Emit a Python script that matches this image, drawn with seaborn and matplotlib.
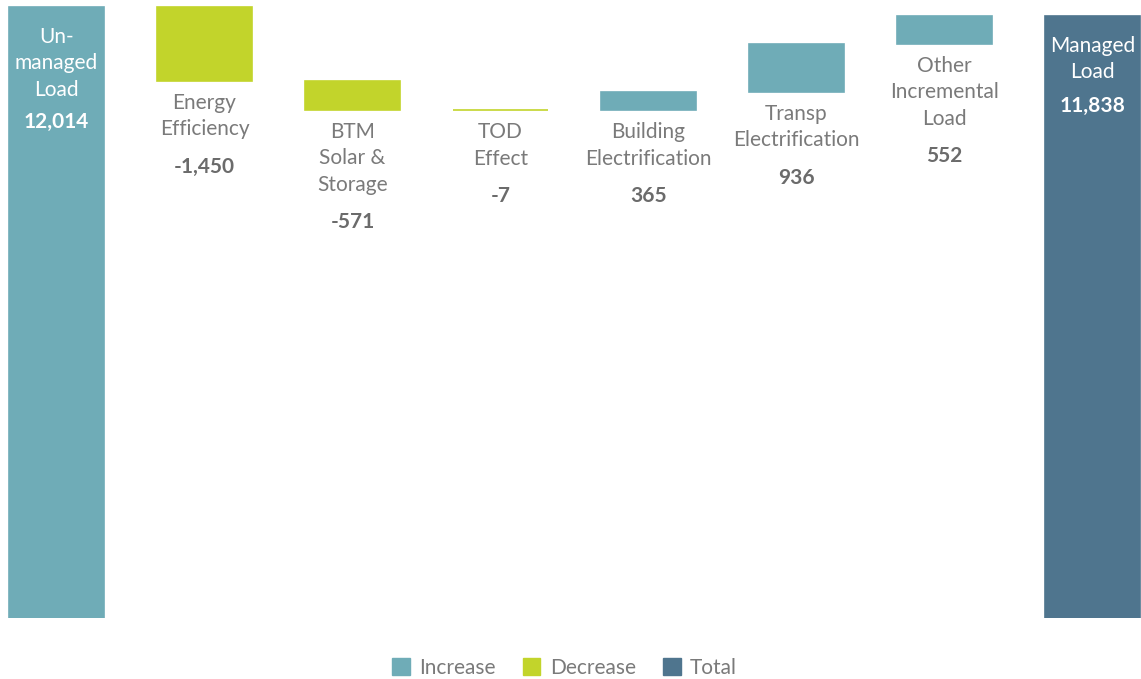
import matplotlib
matplotlib.use("Agg")
import matplotlib.pyplot as plt
import matplotlib.patches as mpatches
import seaborn as sns
import numpy as np

# data
categories = ["Un-\nmanaged\nLoad", "Energy\nEfficiency", "BTM\nSolar &\nStorage", "TOD\nEffect",
              "Building\nElectrification", "Transp\nElectrification", "Other\nIncremental\nLoad",
              "Managed\nLoad"]
values = [12014, -1450, -571, -7, 365, 936, 552, 11838]
is_total = [True, False, False, False, False, False, False, True]
color_kind = ["Increase", "Decrease", "Decrease", "Decrease", "Increase", "Increase", "Increase", "Total"]

palette = {"Increase": "#6FACB7", "Decrease": "#C2D42B", "Total": "#4F758E"}
label_color = "#7A7A7A"
value_color = "#6B6B6B"

sns.set_theme(style="white")
plt.rcParams["font.family"] = ["Lato", "DejaVu Sans"]

# waterfall bottoms / heights
bottoms, heights = [], []
running = 0
for v, tot in zip(values, is_total):
    if tot:
        bottoms.append(0)
        heights.append(v)
        running = v
    else:
        bottoms.append(running)
        heights.append(v)
        running += v

fig = plt.figure(figsize=(11.41, 6.79), dpi=100)
W, H = 1141, 679
ax = fig.add_axes([0, (H - 618) / H, 1, 618 / H])

x = np.arange(len(categories))
colors = [palette[k] for k in color_kind]
ax.bar(x, heights, bottom=bottoms, width=0.642, color=colors, edgecolor=colors, linewidth=1.2)

ax.set_xlim(-56.5 / 148, 7 + (W - 1092.5) / 148)
ax.set_ylim(0, 12014 * 618 / 611)
ax.set_axis_off()

px = 72 / 100  # pixels -> points
fs = 15

for i, (cat, v, b, tot) in enumerate(zip(categories, values, bottoms, is_total)):
    n = cat.count("\n") + 1
    if tot:
        top = b + v
        ax.annotate(cat, (i, top), xytext=(0, -20 * px), textcoords="offset points",
                    ha="center", va="top", fontsize=fs, color="white", linespacing=1.4)
        ax.annotate(f"{v:,}", (i, top), xytext=(0, -(28 + (n - 1) * 24.5 + 38) * px),
                    textcoords="offset points", ha="center", va="center",
                    fontsize=fs, fontweight="bold", color="white")
    else:
        low = min(b, b + v)
        ax.annotate(cat, (i, low), xytext=(0, -12 * px), textcoords="offset points",
                    ha="center", va="top", fontsize=fs, color=label_color, linespacing=1.4)
        ax.annotate(f"{v:,}", (i, low), xytext=(0, -(21 + (n - 1) * 26 + 39) * px),
                    textcoords="offset points", ha="center", va="center",
                    fontsize=fs, fontweight="bold", color=value_color)

handles = [mpatches.Patch(color=palette[k], label=k) for k in ["Increase", "Decrease", "Total"]]
leg = fig.legend(handles=handles, loc="center", bbox_to_anchor=(0.5 - 6 / W, (H - 668) / H), ncol=3,
                 frameon=False, fontsize=fs, handlelength=0.85, handleheight=0.85,
                 handletextpad=0.45, columnspacing=1.3)
for t in leg.get_texts():
    t.set_color(label_color)

fig.savefig("out.png", dpi=100, facecolor="white")
